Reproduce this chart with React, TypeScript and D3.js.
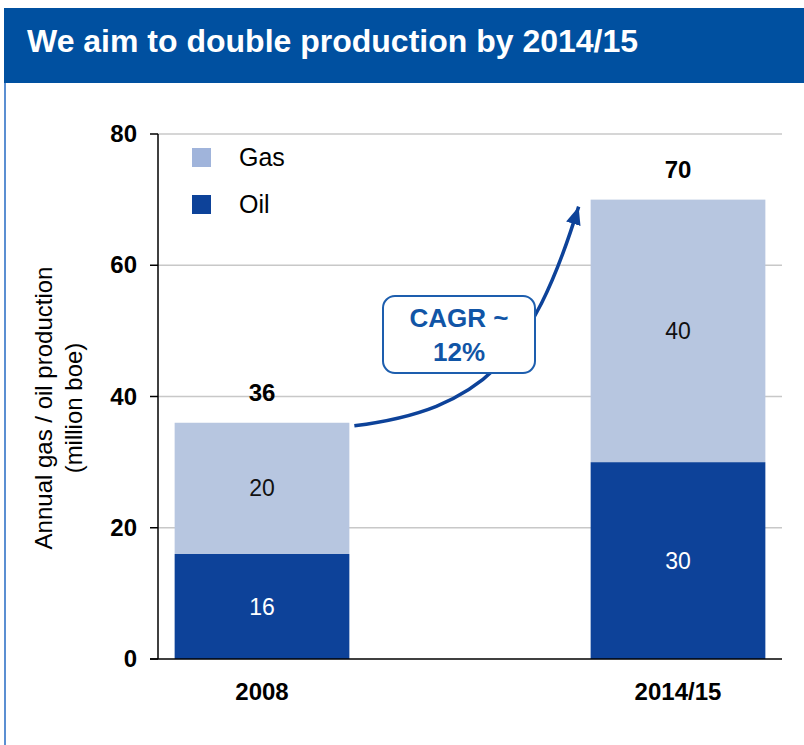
import React from "react";
import * as d3 from "d3";

const categories = ["2008", "2014/15"];
const oilValues = [16, 30];
const gasValues = [20, 40];
const totals = [36, 70];
const yTicks = [0, 20, 40, 60, 80];
const seriesNames = ["Gas", "Oil"];

const W = 804;
const H = 745;
const FONT = "Liberation Sans, Arial, Helvetica, sans-serif";
const HEADER_BLUE = "#0050a0";
const OIL = "#0d4299";
const GAS = "#b7c6e0";
const GAS_LEGEND = "#a0b4db";

export default function App() {
  const y = d3.scaleLinear().domain([0, 80]).range([659, 134]);
  const x = d3
    .scaleBand<string>()
    .domain(categories)
    .range([158, 782])
    .paddingInner(0.58)
    .paddingOuter(0.04);
  const bw = x.bandwidth();

  const stacked = categories.map((c, i) => ({
    c,
    oil: oilValues[i],
    gas: gasValues[i],
    total: totals[i],
  }));

  // annotation arrow anchored to bars
  const x0 = (x(categories[0]) as number) + bw + 5;
  const y0 = y(totals[0]) + 3;
  const x1 = (x(categories[1]) as number) - 12;
  const y1 = y(totals[1]) + 7;
  const arrowPath = `M${x0},${y0} C${x0 + 127},${y0 - 16} ${x0 + 177},${y0 - 66} ${x1},${y1}`;

  return (
    <svg
      width={W}
      height={H}
      style={{ position: "absolute", left: 0, top: 0, background: "#fff" }}
    >
      <defs>
        <marker
          id="ah"
          markerUnits="userSpaceOnUse"
          markerWidth={20}
          markerHeight={20}
          viewBox="0 0 20 20"
          refX={18}
          refY={10}
          orient="auto"
        >
          <path d="M0,2.5 L18,10 L0,17.5 Z" fill={OIL} />
        </marker>
      </defs>
      <rect x={0} y={0} width={W} height={H} fill="#fff" />
      {/* header */}
      <rect x={4} y={8} width={W - 4} height={75} fill={HEADER_BLUE} />
      <text
        x={27}
        y={52}
        fill="#fff"
        fontFamily={FONT}
        fontWeight="bold"
        fontSize={32}
      >
        We aim to double production by 2014/15
      </text>
      {/* left border */}
      <line x1={5} x2={5} y1={83} y2={H} stroke="#5b8fd2" strokeWidth={2} />

      {/* gridlines */}
      {yTicks
        .filter((t) => t > 0)
        .map((t) => (
          <line
            key={t}
            x1={158}
            x2={782}
            y1={y(t)}
            y2={y(t)}
            stroke="#c8c8c8"
            strokeWidth={1.5}
          />
        ))}

      {/* bars */}
      {stacked.map((d) => (
        <g key={d.c}>
          <rect
            x={x(d.c)}
            y={y(d.oil)}
            width={bw}
            height={y(0) - y(d.oil)}
            fill={OIL}
          />
          <rect
            x={x(d.c)}
            y={y(d.oil + d.gas)}
            width={bw}
            height={y(d.oil) - y(d.oil + d.gas)}
            fill={GAS}
          />
          <text
            x={(x(d.c) as number) + bw / 2}
            y={(y(0) + y(d.oil)) / 2 + 8}
            textAnchor="middle"
            fill="#fff"
            fontFamily={FONT}
            fontSize={23}
          >
            {d.oil}
          </text>
          <text
            x={(x(d.c) as number) + bw / 2}
            y={(y(d.oil) + y(d.oil + d.gas)) / 2 + 8}
            textAnchor="middle"
            fill="#111"
            fontFamily={FONT}
            fontSize={23}
          >
            {d.gas}
          </text>
          <text
            x={(x(d.c) as number) + bw / 2}
            y={y(d.total) - 22}
            textAnchor="middle"
            fill="#000"
            fontFamily={FONT}
            fontWeight="bold"
            fontSize={24}
          >
            {d.total}
          </text>
          <text
            x={(x(d.c) as number) + bw / 2}
            y={700}
            textAnchor="middle"
            fill="#000"
            fontFamily={FONT}
            fontWeight="bold"
            fontSize={24}
          >
            {d.c}
          </text>
        </g>
      ))}

      {/* axes */}
      <line x1={158} x2={158} y1={y(80)} y2={y(0)} stroke="#000" strokeWidth={1.5} />
      <line x1={150} x2={782} y1={y(0)} y2={y(0)} stroke="#000" strokeWidth={1.5} />
      {yTicks.map((t) => (
        <g key={t}>
          <line x1={150} x2={158} y1={y(t)} y2={y(t)} stroke="#000" strokeWidth={1.5} />
          <text
            x={137}
            y={y(t) + 8}
            textAnchor="end"
            fontFamily={FONT}
            fontWeight="bold"
            fontSize={24}
            fill="#000"
          >
            {t}
          </text>
        </g>
      ))}

      {/* y title */}
      <text
        transform={`translate(52,408) rotate(-90)`}
        textAnchor="middle"
        fontFamily={FONT}
        fontSize={24}
        fill="#000"
      >
        Annual gas / oil production
      </text>
      <text
        transform={`translate(82,408) rotate(-90)`}
        textAnchor="middle"
        fontFamily={FONT}
        fontSize={24}
        fill="#000"
      >
        (million boe)
      </text>

      {/* legend */}
      {seriesNames.map((s, i) => (
        <g key={s}>
          <rect
            x={192}
            y={148 + i * 47}
            width={19}
            height={19}
            fill={s === "Gas" ? GAS_LEGEND : OIL}
          />
          <text
            x={239}
            y={166 + i * 47}
            fontFamily={FONT}
            fontSize={25}
            fill="#000"
          >
            {s}
          </text>
        </g>
      ))}

      {/* CAGR annotation */}
      <path
        d={arrowPath}
        fill="none"
        stroke={OIL}
        strokeWidth={3.5}
        markerEnd="url(#ah)"
      />
      <rect
        x={383}
        y={296}
        width={152}
        height={77}
        rx={12}
        fill="#fff"
        stroke="#1d5eae"
        strokeWidth={2}
      />
      <text
        x={459}
        y={327}
        textAnchor="middle"
        fontFamily={FONT}
        fontWeight="bold"
        fontSize={26}
        fill="#1155a6"
      >
        CAGR ~
      </text>
      <text
        x={459}
        y={361}
        textAnchor="middle"
        fontFamily={FONT}
        fontWeight="bold"
        fontSize={26}
        fill="#1155a6"
      >
        12%
      </text>
    </svg>
  );
}
